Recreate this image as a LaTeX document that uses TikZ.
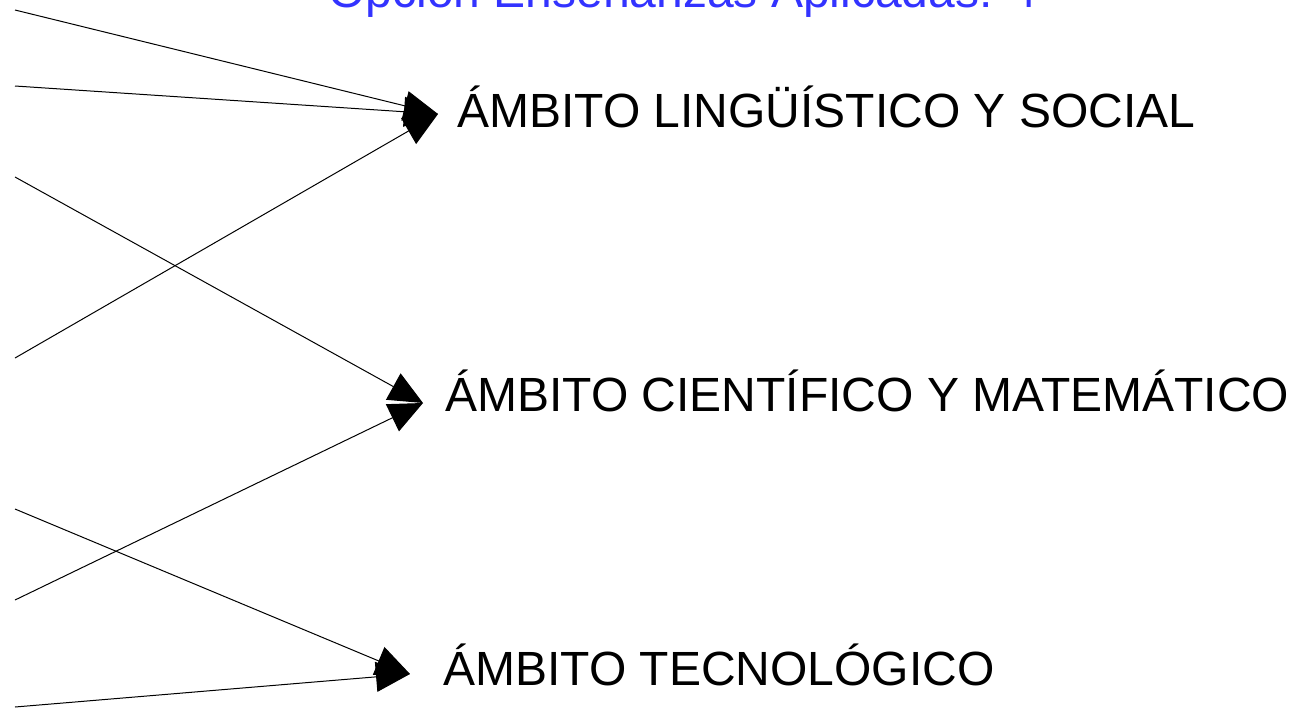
\documentclass[tikz,border=0pt]{standalone}
\usepackage{fontspec}
\setmainfont{Liberation Sans}
\usetikzlibrary{arrows.meta}
\definecolor{titleblue}{RGB}{51,51,255}

\begin{document}
\begin{tikzpicture}[x=0.5pt, y=-0.5pt,
	ambito/.style={anchor=base west, inner sep=0pt, font=\fontsize{24}{28}\selectfont},
	link/.style={line width=0.5pt, -{Triangle[length=17pt, width=15pt]}}]
	\clip (0, 0) rectangle (1293, 707);
	\node[ambito, text=titleblue] (titulo) at (328, 7) {Opción Enseñanzas Aplicadas: 4º};
	\node[ambito] (ling) at (457, 127) {ÁMBITO LINGÜÍSTICO Y SOCIAL};
	\node[ambito] (cien) at (445, 411) {ÁMBITO CIENTÍFICO Y MATEMÁTICO};
	\node[ambito] (tecn) at (443, 685) {ÁMBITO TECNOLÓGICO};
	% arrow tips, just left of each text
	\coordinate (tl) at ([shift={(-19, -13)}]ling.base west);
	\coordinate (tc) at ([shift={(-22, -8)}]cien.base west);
	\coordinate (tt) at ([shift={(-33, -11)}]tecn.base west);
	% loose ends on the left
	\coordinate (s1) at (15, 10);
	\coordinate (s2) at (15, 86);
	\coordinate (s3) at (15, 177);
	\coordinate (s4) at (15, 358);
	\coordinate (s5) at (15, 509);
	\coordinate (s6) at (15, 600);
	\coordinate (s7) at (15, 707);
	\draw[link] (s1) -- (tl);
	\draw[link] (s2) -- (tl);
	\draw[link] (s4) -- (tl);
	\draw[link] (s3) -- (tc);
	\draw[link] (s6) -- (tc);
	\draw[link] (s5) -- (tt);
	\draw[link] (s7) -- (tt);
\end{tikzpicture}
\end{document}
